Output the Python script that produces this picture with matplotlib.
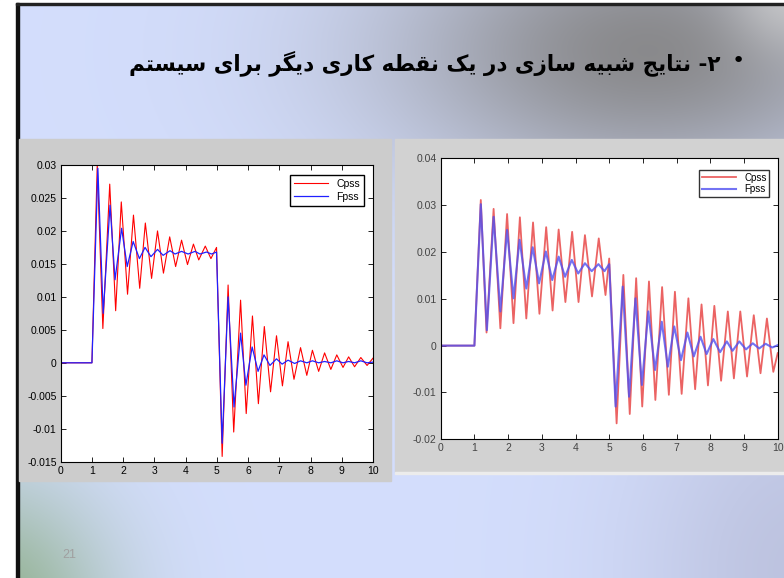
import numpy as np
import matplotlib.pyplot as plt
from matplotlib.patches import Rectangle

# turning points of the two responses, first operating point (time s, value)
t_cpss_1 = [0, 1.0, 1.17, 1.35, 1.57, 1.76, 1.94, 2.14, 2.33, 2.53, 2.71, 2.91, 3.10, 3.29, 3.49, 3.68,
            3.87, 4.06, 4.25, 4.42, 4.63, 4.81, 4.99, 5.17, 5.36, 5.54, 5.76, 5.94, 6.14, 6.33, 6.52,
            6.72, 6.91, 7.10, 7.28, 7.47, 7.68, 7.88, 8.06, 8.26, 8.45, 8.65, 8.84, 9.04, 9.22, 9.41,
            9.61, 9.81, 10.0]
v_cpss_1 = [0, 0, 0.0300, 0.0052, 0.0271, 0.0079, 0.0244, 0.0104, 0.0224, 0.0113, 0.0212, 0.0128,
            0.0200, 0.0136, 0.0191, 0.0146, 0.0186, 0.0149, 0.0180, 0.0156, 0.0177, 0.0158, 0.0175,
            -0.0142, 0.0118, -0.0105, 0.0095, -0.0077, 0.0071, -0.0062, 0.0055, -0.0044, 0.0041,
            -0.0035, 0.0032, -0.0025, 0.0023, -0.0019, 0.0019, -0.0013, 0.0015, -0.0010, 0.0012,
            -0.0007, 0.0009, -0.0006, 0.0008, -0.0004, 0.0007]
t_fpss_1 = [0, 1.0, 1.19, 1.36, 1.58, 1.74, 1.95, 2.13, 2.32, 2.52, 2.70, 2.89, 3.10, 3.28, 3.50, 3.66,
            3.87, 4.08, 4.30, 4.46, 4.67, 4.83, 4.99, 5.17, 5.36, 5.55, 5.76, 5.93, 6.13, 6.32, 6.51,
            6.70, 6.91, 7.09, 7.28, 7.49, 7.68, 7.88, 8.06, 8.26, 8.45, 8.65, 8.84, 9.04, 9.22, 9.41,
            9.61, 9.81, 10.0]
v_fpss_1 = [0, 0, 0.0295, 0.0075, 0.0239, 0.0126, 0.0204, 0.0146, 0.0184, 0.0158, 0.0175, 0.0161,
            0.0172, 0.0163, 0.0170, 0.0165, 0.0169, 0.0165, 0.0169, 0.0165, 0.0168, 0.0165, 0.0168,
            -0.0122, 0.0100, -0.0067, 0.0045, -0.0034, 0.0024, -0.0013, 0.0012, -0.0004, 0.0006,
            -0.0002, 0.0004, -0.0001, 0.0003, 0.0000, 0.0003, 0.0000, 0.0002, 0.0000, 0.0003,
            0.0000, 0.0002, 0.0000, 0.0003, 0.0000, 0.0001]

# second operating point
t_cpss_2 = [0, 1.0, 1.19, 1.36, 1.57, 1.77, 1.97, 2.16, 2.35, 2.54, 2.74, 2.93, 3.13, 3.32, 3.50, 3.70,
            3.90, 4.09, 4.28, 4.49, 4.69, 4.89, 5.00, 5.22, 5.42, 5.61, 5.80, 5.98, 6.18, 6.37, 6.57,
            6.77, 6.95, 7.15, 7.35, 7.55, 7.74, 7.93, 8.12, 8.32, 8.52, 8.70, 8.89, 9.09, 9.29, 9.49,
            9.68, 9.87, 10.0]
v_cpss_2 = [0, 0, 0.0311, 0.0028, 0.0292, 0.0037, 0.0281, 0.0048, 0.0274, 0.0058, 0.0263, 0.0068,
            0.0253, 0.0075, 0.0248, 0.0093, 0.0243, 0.0093, 0.0236, 0.0105, 0.0229, 0.0108, 0.0186,
            -0.0166, 0.0151, -0.0146, 0.0144, -0.0130, 0.0137, -0.0116, 0.0125, -0.0105, 0.0115,
            -0.0103, 0.0101, -0.0093, 0.0088, -0.0085, 0.0085, -0.0075, 0.0073, -0.0070, 0.0073,
            -0.0066, 0.0065, -0.0059, 0.0058, -0.0056, -0.0016]
t_fpss_2 = [0, 1.0, 1.19, 1.37, 1.57, 1.77, 1.97, 2.16, 2.34, 2.54, 2.73, 2.92, 3.12, 3.31, 3.50, 3.69,
            3.89, 4.08, 4.28, 4.48, 4.68, 4.86, 5.00, 5.19, 5.40, 5.59, 5.78, 5.97, 6.16, 6.36, 6.56,
            6.74, 6.93, 7.13, 7.32, 7.51, 7.71, 7.89, 8.09, 8.29, 8.49, 8.66, 8.86, 9.06, 9.26, 9.45,
            9.64, 9.84, 10.0]
v_fpss_2 = [0, 0, 0.0302, 0.0033, 0.0275, 0.0073, 0.0247, 0.0101, 0.0226, 0.0122, 0.0210, 0.0133,
            0.0201, 0.0140, 0.0190, 0.0147, 0.0183, 0.0154, 0.0176, 0.0159, 0.0174, 0.0159, 0.0174,
            -0.0130, 0.0126, -0.0109, 0.0101, -0.0084, 0.0073, -0.0052, 0.0051, -0.0045, 0.0041,
            -0.0031, 0.0028, -0.0023, 0.0019, -0.0018, 0.0014, -0.0014, 0.0009, -0.0011, 0.0009,
            -0.0008, 0.0005, -0.0006, 0.0004, -0.0004, 0.0001]

series_names = ["Cpss", "Fpss"]
xticks = list(range(0, 11))
yticks_1 = [-0.015, -0.01, -0.005, 0, 0.005, 0.01, 0.015, 0.02, 0.025, 0.03]
yticks_2 = [-0.02, -0.01, 0, 0.01, 0.02, 0.03, 0.04]

title = "۲- نتایج شبیه سازی در یک نقطه کاری دیگر برای سیستم"
page_no = "21"

# arabic presentation forms: isolated, final, initial, medial
FORMS = {
    "ا": ("\ufe8d", "\ufe8e", None, None),
    "ب": ("\ufe8f", "\ufe90", "\ufe91", "\ufe92"),
    "ت": ("\ufe95", "\ufe96", "\ufe97", "\ufe98"),
    "ج": ("\ufe9d", "\ufe9e", "\ufe9f", "\ufea0"),
    "د": ("\ufea9", "\ufeaa", None, None),
    "ر": ("\ufead", "\ufeae", None, None),
    "ز": ("\ufeaf", "\ufeb0", None, None),
    "س": ("\ufeb1", "\ufeb2", "\ufeb3", "\ufeb4"),
    "ش": ("\ufeb5", "\ufeb6", "\ufeb7", "\ufeb8"),
    "ط": ("\ufec1", "\ufec2", "\ufec3", "\ufec4"),
    "ق": ("\ufed5", "\ufed6", "\ufed7", "\ufed8"),
    "م": ("\ufee1", "\ufee2", "\ufee3", "\ufee4"),
    "ن": ("\ufee5", "\ufee6", "\ufee7", "\ufee8"),
    "ه": ("\ufee9", "\ufeea", "\ufeeb", "\ufeec"),
    "ی": ("\ufbfc", "\ufbfd", "\ufbfe", "\ufbff"),
    "ک": ("\ufb8e", "\ufb8f", "\ufb90", "\ufb91"),
    "گ": ("\ufb92", "\ufb93", "\ufb94", "\ufb95"),
}


def shape(word):
    out = []
    for i, ch in enumerate(word):
        if ch not in FORMS:
            out.append(ch)
            continue
        prev = word[i - 1] if i > 0 else ""
        nxt = word[i + 1] if i + 1 < len(word) else ""
        joins_prev = prev in FORMS and FORMS[prev][2] is not None
        joins_next = nxt in FORMS and FORMS[ch][2] is not None
        iso, fin, ini, med = FORMS[ch]
        if joins_prev and joins_next:
            out.append(med)
        elif joins_prev:
            out.append(fin)
        elif joins_next:
            out.append(ini)
        else:
            out.append(iso)
    return "".join(reversed(out))


title_visual = " ".join(shape(w) for w in reversed(title.split()))

W, H = 784, 578
fig = plt.figure(figsize=(W / 100, H / 100), dpi=100)

# slide background
bg_ax = fig.add_axes([0, 0, 1, 1])
yy, xx = np.mgrid[0:H, 0:W]
bg = np.ones((H, W, 3)) * np.array([0.83, 0.87, 0.99])


def blob(img, cx, cy, sx, sy, color, k=1.0):
    w = k * np.exp(-(((xx - cx) / sx) ** 2 + ((yy - cy) / sy) ** 2))[..., None]
    return img * (1 - w) + np.array(color) * w


bg = blob(bg, 650, 50, 260, 140, (0.54, 0.54, 0.55))
bg = blob(bg, 790, -10, 60, 60, (0.80, 0.80, 0.80), 0.8)
bg = blob(bg, -10, 610, 120, 130, (0.58, 0.70, 0.58))
bg = blob(bg, 800, 570, 170, 220, (0.72, 0.74, 0.85), 0.8)
bg_ax.imshow(bg, extent=(0, W, H, 0), aspect="auto")
bg_ax.set_xlim(0, W)
bg_ax.set_ylim(H, 0)
bg_ax.axis("off")
bg_ax.add_patch(Rectangle((0, 0), 16, H, color="white"))
bg_ax.add_patch(Rectangle((0, 0), W, 2.5, color="white"))
bg_ax.add_patch(Rectangle((16, 2.5), 3, H, color="#111111"))
bg_ax.add_patch(Rectangle((16, 2.5), W, 2.5, color="#222222"))
bg_ax.add_patch(Rectangle((19, 139), 372, 342, color="#cccccc"))
bg_ax.add_patch(Rectangle((395, 139), 389, 333, color="#d2d2d2"))
bg_ax.add_patch(Rectangle((395, 472), 389, 2, color="#ececec"))

bg_ax.text(721, 63, title_visual, ha="right", va="center", fontsize=15.5, fontweight="bold",
           family="DejaVu Sans", color="black")
bg_ax.text(738, 61, "•", ha="center", va="center", fontsize=16, color="black")
bg_ax.text(62, 555, page_no, ha="left", va="center", fontsize=9, color="#a0a0a0",
           family="Liberation Sans")


def style(ax, color):
    ax.tick_params(direction="in", top=True, right=True, length=3.5, width=0.6,
                   labelsize=7.5, labelcolor=color, pad=3)
    for lab in ax.get_xticklabels() + ax.get_yticklabels():
        lab.set_family("Liberation Sans")
    for s in ax.spines.values():
        s.set_linewidth(0.8)
    ax.yaxis.set_major_formatter(plt.FuncFormatter(lambda v, p: f"{round(v, 4):g}"))


# left plot
ax1 = fig.add_axes([60.7 / W, 1 - 461.7 / H, 312.3 / W, 296.7 / H])
ax1.plot(t_cpss_1, v_cpss_1, color="#ff0000", lw=0.8, label=series_names[0])
ax1.plot(t_fpss_1, v_fpss_1, color="#2020ff", lw=0.9, label=series_names[1])
ax1.set_xlim(0, 10)
ax1.set_ylim(-0.015, 0.03)
ax1.set_xticks(xticks)
ax1.set_yticks(yticks_1)
style(ax1, "black")
ax1.legend(loc="upper right", bbox_to_anchor=(0.988, 0.985), fancybox=False, framealpha=1,
           edgecolor="black", prop={"family": "Liberation Sans", "size": 7.5},
           handlelength=3.2, borderpad=0.4, labelspacing=0.3)

# right plot
ax2 = fig.add_axes([440.7 / W, 1 - 439.3 / H, 337 / W, 281 / H])
ax2.plot(t_cpss_2, v_cpss_2, color="#e84848", lw=1.3, alpha=0.85, label=series_names[0])
ax2.plot(t_fpss_2, v_fpss_2, color="#5050f0", lw=1.5, alpha=0.8, label=series_names[1])
ax2.set_xlim(0, 10)
ax2.set_ylim(-0.02, 0.04)
ax2.set_xticks(xticks)
ax2.set_yticks(yticks_2)
style(ax2, "#444444")
ax2.legend(loc="upper right", bbox_to_anchor=(0.99, 0.977), fancybox=False, framealpha=1,
           edgecolor="#333333", prop={"family": "Liberation Sans", "size": 7},
           handlelength=3.5, borderpad=0.3, labelspacing=0.2)

fig.savefig("out.png", dpi=100)
